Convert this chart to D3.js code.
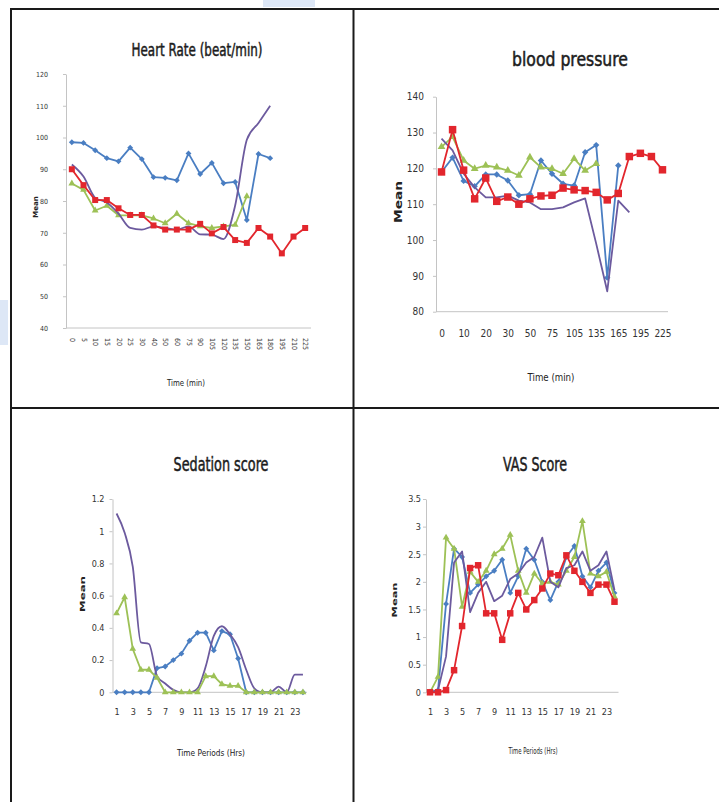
<!DOCTYPE html>
<html>
<head>
<meta charset="utf-8">
<script src="https://cdn.jsdelivr.net/npm/d3@7"></script>
<style>
  body { margin: 0; background: #fff; }
  text { font-family: "Liberation Sans Narrow", "DejaVu Sans Condensed", sans-serif; }
</style>
</head>
<body>
<svg id="chart" width="719" height="802"></svg>
<script>
// ---- data ----
const timeMin = ["0","5","10","15","20","25","30","40","50","60","75","90","105","120","135","150","165","180","195","210","225"];
const periods = [1,2,3,4,5,6,7,8,9,10,11,12,13,14,15,16,17,18,19,20,21,22,23,24];

// heart rate
const hrYTicks = [40, 50, 60, 70, 80, 90, 100, 110, 120];
const hrBlue   = [98.5, 98.3, 96, 93.5, 92.5, 96.8, 93.2, 87.5, 87.3, 86.5, 95, 88.5, 92, 85.6, 86, 74, 94.8, 93.5];
const hrGreen  = [85.5, 83.5, 77, 78.5, 75.5, 75.5, 75.5, 74.5, 73, 76, 73, 72, 71.5, 72, 72.5, 81.5];
const hrPurple = [91.5, 87.7, 81, 79.5, 76, 71.5, 71, 72, 71.5, 71, 72, 69.5, 69.4, 68, 78.6, 99.3, 104.6, 110];
const hrRed    = [90, 85, 80.3, 80.3, 77.7, 75.6, 75.6, 72.3, 71, 71, 71, 72.8, 69.8, 71.8, 67.7, 66.8, 71.5, 68.8, 63.5, 68.8, 71.5];

// blood pressure
const bpYTicks = [80, 90, 100, 110, 120, 130, 140];
const bpXLabels = ["0","10","20","30","50","75","105","135","165","195","225"];
const bpBlue   = [119, 123, 116.5, 115, 118.3, 118.3, 116.6, 112.5, 112.8, 122.2, 118.5, 115.7, 115.2, 124.5, 126.5, 89.5, 120.8];
const bpGreen  = [126, 128.8, 122.2, 119.9, 120.8, 120.3, 119.4, 118, 123.1, 120.3, 119.9, 118.5, 122.7, 119.4, 121.3];
const bpPurple = [128.3, 125, 118.5, 114.7, 111.9, 111.9, 112.4, 111, 110.5, 108.6, 108.6, 109.1, 110.5, 111.6, 99, 85.7, 111, 107.7];
const bpRed    = [119, 130.8, 119.5, 111.5, 117.3, 110.8, 112, 110, 111.5, 112.3, 112.5, 114.5, 114, 113.8, 113.3, 111.2, 113, 123.3, 124.2, 123.3, 119.6];

// sedation score
const sedYTicks = [0, 0.2, 0.4, 0.6, 0.8, 1, 1.2];
const sedBlue   = [0, 0, 0, 0, 0, 0.15, 0.16, 0.2, 0.24, 0.32, 0.37, 0.37, 0.26, 0.38, 0.36, 0.21, 0, 0, 0, 0, 0, 0, 0, 0];
const sedGreen  = [0.49, 0.59, 0.27, 0.14, 0.14, 0.09, 0, 0, 0, 0, 0, 0.1, 0.1, 0.05, 0.04, 0.04, 0, 0, 0, 0, 0, 0, 0, 0];
const sedPurple = [1.11, 0.99, 0.78, 0.31, 0.3, 0.1, 0.055, 0.015, 0, 0, 0.025, 0.16, 0.35, 0.41, 0.36, 0.28, 0.14, 0.025, 0, 0, 0.035, 0, 0.11, 0.11];

// VAS score
const vasYTicks = [0, 0.5, 1, 1.5, 2, 2.5, 3, 3.5];
const vasBlue   = [0, 0.04, 1.6, 2.6, 2.45, 1.8, 1.95, 2.1, 2.2, 2.4, 1.8, 2.1, 2.6, 2.4, 2.0, 1.67, 2.0, 2.45, 2.65, 2.1, 1.9, 2.2, 2.35, 1.8];
const vasGreen  = [0, 0.28, 2.8, 2.6, 1.55, 2.18, 2.0, 2.2, 2.5, 2.6, 2.85, 2.2, 1.8, 2.15, 1.97, 2.0, 1.95, 2.2, 2.45, 3.1, 2.15, 2.1, 2.18, 1.73];
const vasPurple = [0, 0.04, 0.65, 2.35, 2.55, 1.45, 1.8, 2.0, 1.65, 1.75, 2.05, 2.15, 2.35, 2.45, 2.8, 2.0, 1.9, 2.25, 2.3, 2.55, 2.2, 2.3, 2.55, 1.85];
const vasRed    = [0, 0, 0.04, 0.4, 1.2, 2.25, 2.3, 1.43, 1.43, 0.95, 1.43, 1.8, 1.5, 1.67, 1.88, 2.15, 2.12, 2.48, 2.2, 2.0, 1.8, 1.95, 1.95, 1.64];

// ---- colours ----
const cBlue = "#4a7ec2", cRed = "#e2262d", cGreen = "#9dc156", cPurple = "#6c5a9e";

const svg = d3.select("#chart");

// scan artefacts (light blue patches)
svg.append("rect").attr("x", 263).attr("y", 0).attr("width", 52).attr("height", 7).attr("fill", "#dde7f6");
svg.append("rect").attr("x", 0).attr("y", 300).attr("width", 8).attr("height", 45).attr("fill", "#dde7f6");

// panel frame
const frame = svg.append("g").attr("stroke", "#1a1a1a").attr("stroke-width", 2);
frame.append("line").attr("x1", 10).attr("x2", 719).attr("y1", 9).attr("y2", 9);
frame.append("line").attr("x1", 11).attr("x2", 11).attr("y1", 8).attr("y2", 802);
frame.append("line").attr("x1", 353.5).attr("x2", 353.5).attr("y1", 8).attr("y2", 802);
frame.append("line").attr("x1", 10).attr("x2", 719).attr("y1", 408).attr("y2", 408);

function marker(type, size) {
  if (type === "diamond") return d3.symbol().type(d3.symbolDiamond2).size(size)();
  if (type === "square") return d3.symbol().type(d3.symbolSquare).size(size)();
  if (type === "triangle") return d3.symbol().type(d3.symbolTriangle).size(size)();
  return null;
}

function drawPanel(p) {
  const g = svg.append("g");
  const x = d3.scalePoint().domain(p.cats).range([p.left, p.right]).padding(0.5);
  const y = d3.scaleLinear().domain(p.yDomain).range([p.bottom, p.top]);

  // y axis
  const ya = g.append("g")
      .attr("transform", `translate(${p.left},0)`)
      .call(d3.axisLeft(y).tickValues(p.yTicks).tickSize(3).tickSizeOuter(0).tickPadding(p.yPad).tickFormat(d3.format("")));
  ya.selectAll("path, line").attr("stroke", "#c4c4c4");
  ya.selectAll("text").attr("fill", "#333").style("font-size", p.tickSize + "px");

  // x axis
  const xa = g.append("g")
      .attr("transform", `translate(0,${p.bottom})`)
      .call(d3.axisBottom(x).tickValues(p.xTicks).tickSize(0).tickSizeOuter(0).tickFormat(p.xFmt || (d => d)));
  xa.select(".domain").attr("stroke", "#c4c4c4").attr("d", `M${p.left},0H${p.right}`);
  const xt = xa.selectAll("text").attr("fill", "#333").style("font-size", p.tickSize + "px");
  if (p.rotateX) {
    xt.attr("y", 0).attr("dy", "0.35em")
      .attr("transform", `translate(0,${p.xLabOff}) rotate(90)`)
      .style("text-anchor", "start");
  } else {
    xt.attr("y", p.xLabOff).attr("dy", null);
  }

  // series
  p.series.forEach(s => {
    const line = d3.line()
      .x((d, i) => x(p.cats[i]))
      .y(d => y(d))
      .curve(s.smooth ? d3.curveMonotoneX : d3.curveLinear);
    g.append("path")
      .datum(s.values)
      .attr("fill", "none")
      .attr("stroke", s.color)
      .attr("stroke-width", s.width || 1.8)
      .attr("stroke-linejoin", "round")
      .attr("d", line);
    if (s.marker) {
      g.selectAll(null)
        .data(s.values)
        .enter()
        .append("path")
          .attr("d", marker(s.marker, s.size))
          .attr("transform", (d, i) => `translate(${x(p.cats[i])},${y(d)})`)
          .attr("fill", s.color);
    }
  });

  // title
  g.append("text")
    .attr("x", p.title.x).attr("y", p.title.y)
    .attr("text-anchor", "middle")
    .attr("textLength", p.title.len).attr("lengthAdjust", "spacingAndGlyphs")
    .style("font-size", p.title.size + "px")
    .attr("fill", "#1c1c1c")
    .attr("stroke", "#1c1c1c")
    .attr("stroke-width", 0.5)
    .text(p.title.text);

  // y axis title
  g.append("text")
    .attr("transform", `translate(${p.yTitle.x},${p.yTitle.y}) rotate(-90)`)
    .attr("text-anchor", "middle")
    .attr("textLength", p.yTitle.len).attr("lengthAdjust", "spacingAndGlyphs")
    .style("font-size", p.yTitle.size + "px")
    .style("font-weight", "bold")
    .attr("fill", "#222")
    .text("Mean");

  // x axis title
  g.append("text")
    .attr("x", p.xTitle.x).attr("y", p.xTitle.y)
    .attr("text-anchor", "middle")
    .attr("textLength", p.xTitle.len).attr("lengthAdjust", "spacingAndGlyphs")
    .style("font-size", p.xTitle.size + "px")
    .attr("fill", "#222")
    .text(p.xTitle.text);
}

// Heart rate
drawPanel({
  cats: timeMin, xTicks: timeMin, rotateX: true, xLabOff: 10,
  left: 66, right: 311, top: 74, bottom: 328,
  yDomain: [40, 120], yTicks: hrYTicks, yPad: 15, tickSize: 7,
  series: [
    { values: hrBlue, color: cBlue, marker: "diamond", size: 22 },
    { values: hrGreen, color: cGreen, marker: "triangle", size: 20 },
    { values: hrPurple, color: cPurple, smooth: true },
    { values: hrRed, color: cRed, marker: "square", size: 36 }
  ],
  title: { text: "Heart Rate (beat/min)", x: 197, y: 56, size: 18, len: 131 },
  yTitle: { x: 38, y: 207, size: 7, len: 22 },
  xTitle: { text: "Time (min)", x: 186, y: 386, size: 8, len: 38 }
});

// Blood pressure
drawPanel({
  cats: timeMin, xTicks: bpXLabels, xLabOff: 25,
  left: 436, right: 668, top: 96.7, bottom: 311.7,
  yDomain: [80, 140], yTicks: bpYTicks, yPad: 9, tickSize: 10,
  series: [
    { values: bpBlue, color: cBlue, marker: "diamond", size: 26 },
    { values: bpGreen, color: cGreen, marker: "triangle", size: 26 },
    { values: bpPurple, color: cPurple },
    { values: bpRed, color: cRed, marker: "square", size: 56 }
  ],
  title: { text: "blood pressure", x: 570, y: 66, size: 20, len: 116 },
  yTitle: { x: 402, y: 202, size: 11, len: 42 },
  xTitle: { text: "Time (min)", x: 551, y: 381, size: 10, len: 47 }
});

// Sedation score
drawPanel({
  cats: periods, xTicks: periods.filter(d => d % 2 === 1), xLabOff: 23,
  left: 112.5, right: 307, top: 499, bottom: 692.3,
  yDomain: [0, 1.2], yTicks: sedYTicks, yPad: 5, tickSize: 9,
  series: [
    { values: sedBlue, color: cBlue, marker: "diamond", size: 22 },
    { values: sedPurple, color: cPurple, smooth: true },
    { values: sedGreen, color: cGreen, marker: "triangle", size: 20 }
  ],
  title: { text: "Sedation score", x: 221, y: 471, size: 20, len: 95 },
  yTitle: { x: 85, y: 594, size: 7, len: 36 },
  xTitle: { text: "Time Periods (Hrs)", x: 211, y: 756, size: 8, len: 68 }
});

// VAS score
drawPanel({
  cats: periods, xTicks: periods.filter(d => d % 2 === 1), xLabOff: 23,
  left: 426, right: 618.5, top: 499, bottom: 692.3,
  yDomain: [0, 3.5], yTicks: vasYTicks, yPad: 2, tickSize: 9,
  series: [
    { values: vasBlue, color: cBlue, marker: "diamond", size: 22 },
    { values: vasGreen, color: cGreen, marker: "triangle", size: 20 },
    { values: vasPurple, color: cPurple },
    { values: vasRed, color: cRed, marker: "square", size: 42 }
  ],
  title: { text: "VAS Score", x: 535, y: 471, size: 20, len: 64 },
  yTitle: { x: 397, y: 600, size: 7, len: 35 },
  xTitle: { text: "Time Periods (Hrs)", x: 533, y: 754, size: 8, len: 49 }
});
</script>
</body>
</html>
